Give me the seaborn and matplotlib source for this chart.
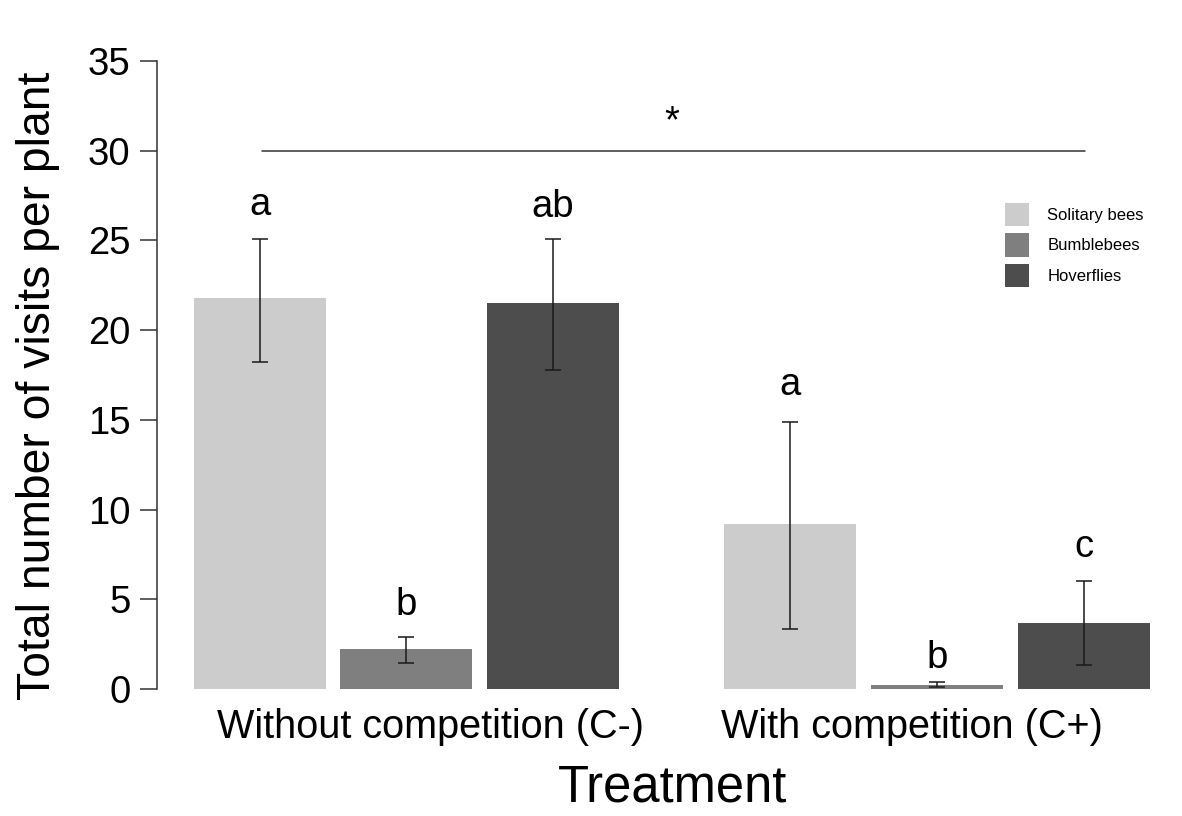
import numpy as np
import pandas as pd
import matplotlib
matplotlib.use('Agg')
import matplotlib.pyplot as plt
import seaborn as sns

# ==========================================
# data
# ==========================================
treatments = ['Without competition (C-)', 'With competition (C+)']
visitors = ['Solitary bees', 'Bumblebees', 'Hoverflies']

mean_c_minus = [21.8, 2.23, 21.5]
mean_c_plus = [9.2, 0.2, 3.68]
low_c_minus = [18.2, 1.45, 17.8]
low_c_plus = [3.35, 0.12, 1.34]
high_c_minus = [25.1, 2.9, 25.1]
high_c_plus = [14.9, 0.4, 6.02]

letters_c_minus = ['a', 'b', 'ab']
letters_c_plus = ['a', 'b', 'c']
letter_y_c_minus = [26.4, 4.12, 26.3]
letter_y_c_plus = [16.4, 1.17, 7.36]

colors = ['#CCCCCC', '#7F7F7F', '#4D4D4D']

df = pd.DataFrame({
    'Treatment': np.repeat(treatments, len(visitors)),
    'Visitor': visitors * len(treatments),
    'Visits': mean_c_minus + mean_c_plus,
})
lows = low_c_minus + low_c_plus
highs = high_c_minus + high_c_plus
letters = letters_c_minus + letters_c_plus
letter_y = letter_y_c_minus + letter_y_c_plus

sns.set_style('white')
plt.rcParams['font.family'] = ['Liberation Sans', 'DejaVu Sans']
plt.rcParams['text.color'] = 'black'
plt.rcParams['axes.labelcolor'] = 'black'
plt.rcParams['xtick.color'] = 'black'
plt.rcParams['ytick.color'] = 'black'

fig = plt.figure(figsize=(11.82, 8.16), dpi=100)
ax = fig.add_axes([157 / 1182, 127 / 816, 1008 / 1182, 628 / 816])

sns.barplot(data=df, x='Treatment', y='Visits', hue='Visitor',
            order=treatments, hue_order=visitors, palette=colors,
            width=0.83, gap=0.1, errorbar=None, saturation=1,
            linewidth=0, ax=ax)

# bar centres from the seaborn containers (one container per visitor group)
xc, means = [], []
for t in range(len(treatments)):
    for cont in ax.containers:
        p = cont.patches[t]
        xc.append(p.get_x() + p.get_width() / 2)
        means.append(p.get_height())
xc = np.array(xc)
means = np.array(means)
ax.errorbar(xc, means, yerr=[means - np.array(lows), np.array(highs) - means],
            fmt='none', ecolor='#1a1a1a', elinewidth=1.1, capsize=5.8, capthick=1.1)

for x, y, s in zip(xc, letter_y, letters):
    ax.text(x, y, s, ha='center', va='baseline', fontsize=27.5)

# significance bar
ax.plot([-0.272, 1.279], [30, 30], color='#333333', lw=1.1)
ax.text(0.5, 31.0, '*', ha='center', va='baseline', fontsize=27.5)

ax.set_xlim(-0.47, 1.43)
ax.set_ylim(0, 35)
ax.set_yticks(range(0, 36, 5))
ax.set_xticks([0.046, 0.953], treatments)
ax.tick_params(axis='x', length=0, pad=14, labelsize=28.5)
ax.tick_params(axis='y', length=12, width=1.1, color='#333333', pad=7, labelsize=27.5, left=True)
for side in ['top', 'right', 'bottom']:
    ax.spines[side].set_visible(False)
ax.spines['left'].set_color('#333333')
ax.spines['left'].set_linewidth(1.1)

ax.set_ylabel('Total number of visits per plant', fontsize=33.3)
ax.set_xlabel('Treatment', fontsize=36.5)
ax.yaxis.set_label_coords(-0.096, 0.482)
ax.xaxis.set_label_coords(0.511, -0.119)

handles, labels = ax.get_legend_handles_labels()
ax.legend(handles, labels, loc='upper left', bbox_to_anchor=(1005 / 1182, 1 - 203 / 816),
          bbox_transform=fig.transFigure, frameon=False, fontsize=12, borderpad=0,
          handlelength=1.44, handleheight=1.79, handletextpad=1.1, labelspacing=0.41,
          borderaxespad=0)

fig.savefig('out.png', dpi=100)
